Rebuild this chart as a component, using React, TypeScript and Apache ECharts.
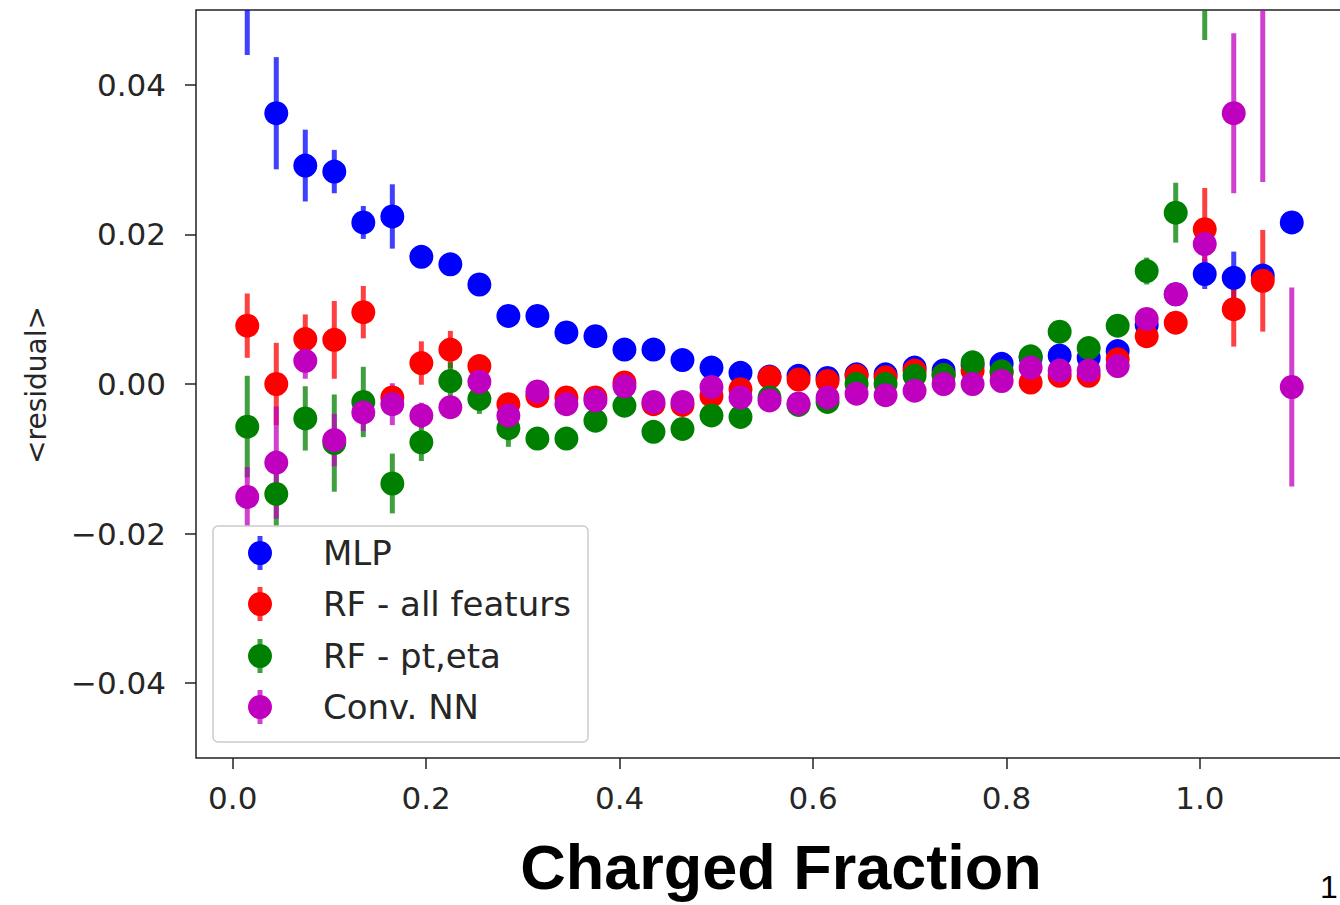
import React, { useEffect, useRef } from "react";
import * as echarts from "echarts";

// Charged fraction bin centres
const fraction = [
  0.015, 0.045, 0.075, 0.105, 0.135, 0.165, 0.195, 0.225, 0.255, 0.285,
  0.315, 0.345, 0.375, 0.405, 0.435, 0.465, 0.495, 0.525, 0.555, 0.585,
  0.615, 0.645, 0.675, 0.705, 0.735, 0.765, 0.795, 0.825, 0.855, 0.885,
  0.915, 0.945, 0.975, 1.005, 1.035, 1.065, 1.095,
];

// MLP
const mlpMean = [
  0.055, 0.0362, 0.0292, 0.0284, 0.0216, 0.0224, 0.017, 0.016, 0.0133, 0.0091,
  0.0091, 0.0069, 0.0064, 0.0046, 0.0046, 0.0032, 0.0022, 0.0015, 0.001, 0.0011,
  0.0008, 0.0013, 0.0013, 0.0022, 0.0018, 0.0025, 0.0027, 0.0035, 0.0038, 0.0035,
  0.0044, 0.0079, 0.012, 0.0147, 0.0142, 0.0145, 0.0216,
];
const mlpErr = [
  0.011, 0.0075, 0.0048, 0.0029, 0.0022, 0.0043, 0.0012, 0.0012, 0.001, 0.0008,
  0.0008, 0.0008, 0.0008, 0.0007, 0.0007, 0.0006, 0.0006, 0.0006, 0.0006, 0.0006,
  0.0006, 0.0006, 0.0006, 0.0006, 0.0006, 0.0006, 0.0006, 0.0007, 0.0008, 0.0008,
  0.0009, 0.001, 0.001, 0.002, 0.0035, 0.001, 0.0008,
];

// RF - all featurs
const rfAllMean = [
  0.0078, 0.0, 0.006, 0.0059, 0.0096, -0.0018, 0.0028, 0.0046, 0.0024, -0.0027,
  -0.0016, -0.0018, -0.0018, 0.0002, -0.0027, -0.0028, -0.0016, -0.0007, 0.0009, 0.0006,
  0.0004, 0.0011, 0.0009, 0.0018, 0.0012, 0.0018, 0.0015, 0.0002, 0.0011, 0.0011,
  0.0033, 0.0064, 0.0082, 0.0207, 0.01, 0.0138, null,
];
const rfAllErr = [
  0.0043, 0.0055, 0.0033, 0.0052, 0.0035, 0.0015, 0.0029, 0.0025, 0.0012, 0.001,
  0.0008, 0.0008, 0.0008, 0.0008, 0.0008, 0.0008, 0.0008, 0.0007, 0.0007, 0.0007,
  0.0007, 0.0007, 0.0007, 0.0007, 0.0007, 0.0007, 0.0007, 0.0008, 0.0008, 0.0008,
  0.0009, 0.0008, 0.001, 0.0055, 0.005, 0.0068, 0,
];

// RF - pt,eta
const rfPtMean = [
  -0.0057, -0.0147, -0.0046, -0.0079, -0.0024, -0.0133, -0.0078, 0.0004, -0.002, -0.0059,
  -0.0073, -0.0073, -0.0049, -0.0029, -0.0064, -0.006, -0.0042, -0.0044, -0.0018, -0.0028,
  -0.0024, 0.0, 0.0, 0.0011, 0.0012, 0.0029, 0.0017, 0.0037, 0.007, 0.0048,
  0.0078, 0.0151, 0.0229, 0.06, null, null, null,
];
const rfPtErr = [
  0.0068, 0.0045, 0.0043, 0.0065, 0.0047, 0.004, 0.0025, 0.0025, 0.002, 0.0025,
  0.001, 0.001, 0.0009, 0.0009, 0.0008, 0.0008, 0.0008, 0.0008, 0.0008, 0.0008,
  0.0008, 0.0008, 0.0008, 0.0008, 0.0008, 0.0008, 0.0008, 0.0009, 0.001, 0.0012,
  0.0015, 0.0018, 0.004, 0.014, 0, 0, 0,
];

// Conv. NN
const cnnMean = [
  -0.0151, -0.0105, 0.0031, -0.0075, -0.0038, -0.0027, -0.0042, -0.0031, 0.0003, -0.0042,
  -0.001, -0.0027, -0.0022, -0.0003, -0.0024, -0.0024, -0.0004, -0.0018, -0.0022, -0.0026,
  -0.0018, -0.0013, -0.0015, -0.0009, 0.0, 0.0, 0.0004, 0.0022, 0.0018, 0.0018,
  0.0024, 0.0087, 0.012, 0.0187, 0.0362, 0.06, -0.0004,
];
const cnnErr = [
  0.004, 0.0075, 0.0024, 0.0035, 0.0025, 0.0028, 0.0017, 0.001, 0.0015, 0.001,
  0.0008, 0.0008, 0.0008, 0.0008, 0.0008, 0.0008, 0.0007, 0.0007, 0.0007, 0.0007,
  0.0007, 0.0007, 0.0007, 0.0007, 0.0007, 0.0007, 0.0007, 0.0008, 0.0008, 0.0008,
  0.0009, 0.001, 0.001, 0.003, 0.0107, 0.033, 0.0133,
];

const xTicks = [0, 0.2, 0.4, 0.6, 0.8, 1.0];
const yTicks = [-0.04, -0.02, 0, 0.02, 0.04];

const seriesDefs = [
  { name: "MLP", color: "#0000ff", bar: "rgba(0,0,255,0.75)", mean: mlpMean, err: mlpErr },
  { name: "RF - all featurs", color: "#ff0000", bar: "rgba(255,0,0,0.75)", mean: rfAllMean, err: rfAllErr },
  { name: "RF - pt,eta", color: "#008000", bar: "rgba(0,128,0,0.75)", mean: rfPtMean, err: rfPtErr },
  { name: "Conv. NN", color: "#bf00bf", bar: "rgba(191,0,191,0.75)", mean: cnnMean, err: cnnErr },
];

const PLOT_LEFT = 196;
const PLOT_TOP = 10;
const PLOT_W = 1148;
const PLOT_H = 748;

function buildSeries() {
  const out: any[] = [];
  seriesDefs.forEach((s) => {
    const errData: any[] = [];
    const ptData: any[] = [];
    fraction.forEach((x, i) => {
      const m = s.mean[i];
      if (m === null || m === undefined) return;
      errData.push([x, m, s.err[i]]);
      ptData.push([x, m]);
    });
    out.push({
      type: "custom",
      name: s.name + " (err)",
      clip: true,
      silent: true,
      data: errData,
      encode: { x: 0, y: 1 },
      renderItem: (params: any, api: any) => {
        const x = api.value(0);
        const y = api.value(1);
        const e = api.value(2);
        const a = api.coord([x, y - e]);
        const b = api.coord([x, y + e]);
        return {
          type: "line",
          shape: { x1: a[0], y1: a[1], x2: b[0], y2: b[1] },
          style: { stroke: s.bar, lineWidth: 5 },
        };
      },
    });
    out.push({
      type: "scatter",
      name: s.name,
      clip: true,
      data: ptData,
      symbol: "circle",
      symbolSize: 24,
      itemStyle: { color: s.color, opacity: 1 },
    });
  });
  return out;
}

function legendGraphics() {
  const els: any[] = [];
  els.push({
    type: "rect",
    shape: { x: 213, y: 526, width: 375, height: 216, r: 5 },
    style: { fill: "rgba(255,255,255,0.85)", stroke: "#cccccc", lineWidth: 1.5 },
    z: 100,
  });
  const rows = [553, 604, 656, 707];
  seriesDefs.forEach((s, i) => {
    const y = rows[i];
    els.push({
      type: "line",
      shape: { x1: 260, y1: y - 17, x2: 260, y2: y + 17 },
      style: { stroke: s.bar, lineWidth: 5 },
      z: 101,
    });
    els.push({
      type: "circle",
      shape: { cx: 260, cy: y, r: 12 },
      style: { fill: s.color },
      z: 102,
    });
    els.push({
      type: "text",
      x: 323,
      y: y,
      style: {
        text: s.name,
        fontSize: 34,
        fontFamily: "DejaVu Sans",
        fill: "#262626",
        align: "left",
        verticalAlign: "middle",
      },
      z: 102,
    });
  });
  return els;
}

export default function App() {
  const ref = useRef<HTMLDivElement>(null);
  useEffect(() => {
    if (!ref.current) return;
    const chart = echarts.init(ref.current, null, { renderer: "svg" });
    const fmtY = (v: number) => (v < 0 ? "\u2212" : "") + Math.abs(v).toFixed(2);
    chart.setOption({
      animation: false,
      backgroundColor: "#ffffff",
      grid: {
        left: PLOT_LEFT,
        top: PLOT_TOP,
        width: PLOT_W,
        height: PLOT_H,
        show: true,
        borderColor: "#222222",
        borderWidth: 1.5,
        backgroundColor: "transparent",
      },
      xAxis: {
        type: "value",
        min: -0.038,
        max: 1.149,
        axisLine: { show: false, onZero: false },
        splitLine: { show: false },
        axisTick: {
          show: true,
          length: 11,
          lineStyle: { color: "#222222", width: 1.5 },
          customValues: xTicks,
        },
        axisLabel: {
          customValues: xTicks,
          formatter: (v: number) => v.toFixed(1),
          fontSize: 31,
          fontFamily: "DejaVu Sans",
          color: "#262626",
          margin: 24,
        },
      },
      yAxis: {
        type: "value",
        min: -0.05,
        max: 0.05,
        axisLine: { show: false, onZero: false },
        splitLine: { show: false },
        axisTick: {
          show: true,
          length: 11,
          lineStyle: { color: "#222222", width: 1.5 },
          customValues: yTicks,
        },
        axisLabel: {
          customValues: yTicks,
          formatter: fmtY,
          fontSize: 31,
          fontFamily: "DejaVu Sans",
          color: "#262626",
          margin: 30,
        },
      },
      series: buildSeries(),
      graphic: [
        ...legendGraphics(),
        {
          type: "text",
          x: 36,
          y: 385,
          rotation: Math.PI / 2,
          style: {
            text: "<residual>",
            fontSize: 28,
            fontFamily: "DejaVu Sans",
            fill: "#262626",
            align: "center",
            verticalAlign: "middle",
          },
        },
        {
          type: "text",
          x: 781,
          y: 867,
          style: {
            text: "Charged Fraction",
            fontSize: 63,
            fontWeight: "bold",
            fontFamily: "Liberation Sans, Arial, sans-serif",
            fill: "#000000",
            align: "center",
            verticalAlign: "middle",
          },
        },
        {
          type: "text",
          x: 1320,
          y: 887,
          style: {
            text: "1",
            fontSize: 32,
            fontFamily: "Liberation Sans, Arial, sans-serif",
            fill: "#000000",
            align: "left",
            verticalAlign: "middle",
          },
        },
      ],
    });
    return () => chart.dispose();
  }, []);
  return (
    <div
      ref={ref}
      style={{ position: "fixed", left: 0, top: 0, width: 1360, height: 905, background: "#ffffff" }}
    />
  );
}
